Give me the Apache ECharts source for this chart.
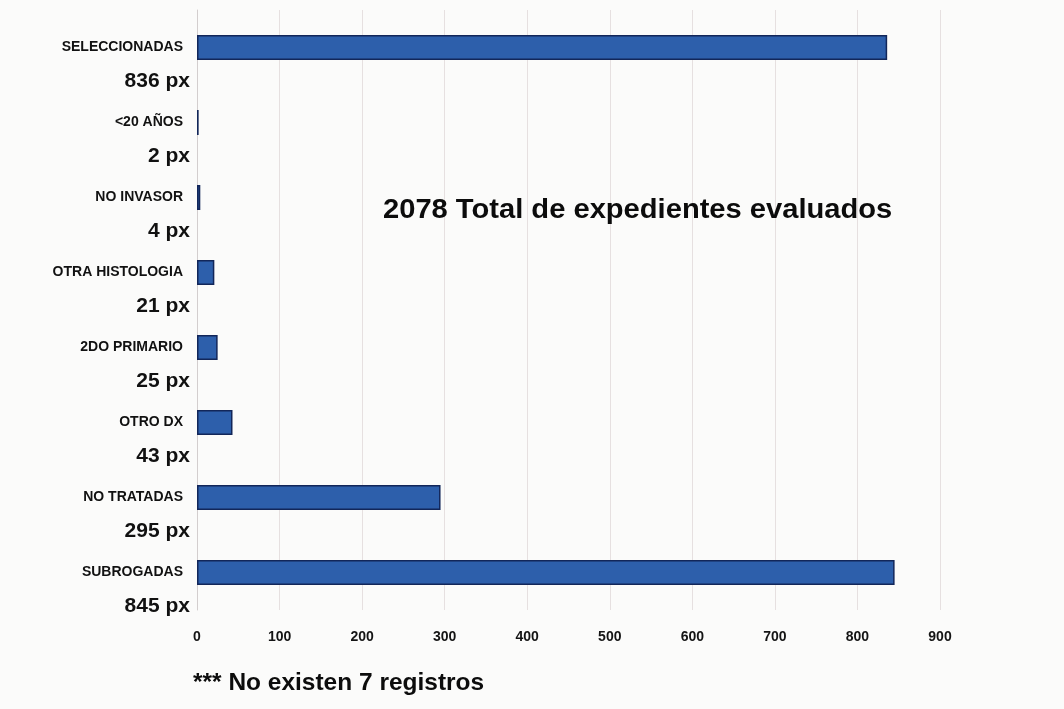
<!DOCTYPE html>
<html>
<head>
<meta charset="utf-8">
<title>Expedientes evaluados</title>
<script src="https://cdn.jsdelivr.net/npm/echarts@6/dist/echarts.min.js"></script>
<style>
  html, body { margin: 0; padding: 0; background: #fbfbfa; }
  #chart { width: 1064px; height: 709px; }
</style>
</head>
<body>
<div id="chart"></div>
<script>
// Categories listed from top to bottom
const categories = [
  'SELECCIONADAS', '<20 AÑOS', 'NO INVASOR', 'OTRA HISTOLOGIA',
  '2DO PRIMARIO', 'OTRO DX', 'NO TRATADAS', 'SUBROGADAS'
];
// Number of records in each category
const counts = [836, 2, 4, 21, 25, 43, 295, 845];
// Horizontal axis ticks
const axisMin = 0;
const axisMax = 900;
const axisStep = 100;

const titleText = '2078 Total de expedientes evaluados';
const footnoteText = '*** No existen 7 registros';

const sans = '"Liberation Sans", Arial, sans-serif';

const chart = echarts.init(document.getElementById('chart'), null, { renderer: 'canvas' });

chart.setOption({
  backgroundColor: '#fbfbfa',
  animation: false,
  grid: { left: 197, right: 124, top: 10, bottom: 99, containLabel: false },
  xAxis: {
    type: 'value',
    min: axisMin,
    max: axisMax,
    interval: axisStep,
    axisLine: { show: false },
    axisTick: { show: false },
    splitLine: { show: true, lineStyle: { color: '#e6e0e0', width: 1 } },
    axisLabel: {
      margin: 20,
      color: '#141414',
      fontFamily: sans,
      fontWeight: 'bold',
      fontSize: 14
    }
  },
  yAxis: {
    type: 'category',
    inverse: true,
    data: categories,
    axisLine: { show: true, lineStyle: { color: '#d3cece', width: 1 } },
    axisTick: { show: false },
    axisLabel: {
      margin: 14,
      color: '#111',
      fontFamily: sans,
      fontWeight: 'bold',
      fontSize: 14
    }
  },
  series: [{
    type: 'bar',
    data: counts,
    barWidth: 25,
    itemStyle: {
      color: '#2d5fab',
      borderColor: '#122659',
      borderWidth: 1.5
    },
    label: {
      show: true,
      position: [-7, 46],
      align: 'right',
      verticalAlign: 'middle',
      formatter: '{c} px',
      color: '#111',
      fontFamily: sans,
      fontWeight: 'bold',
      fontSize: 21
    }
  }],
  graphic: [
    {
      type: 'text',
      x: 383,
      y: 196,
      z: 100,
      scaleX: 1.04,
      style: {
        text: titleText,
        fill: '#0c0c0c',
        font: 'bold 28px ' + sans
      }
    },
    {
      type: 'text',
      x: 193,
      y: 671,
      z: 100,
      scaleX: 1.02,
      style: {
        text: footnoteText,
        fill: '#0c0c0c',
        font: 'bold 24px ' + sans
      }
    }
  ]
});
</script>
</body>
</html>
